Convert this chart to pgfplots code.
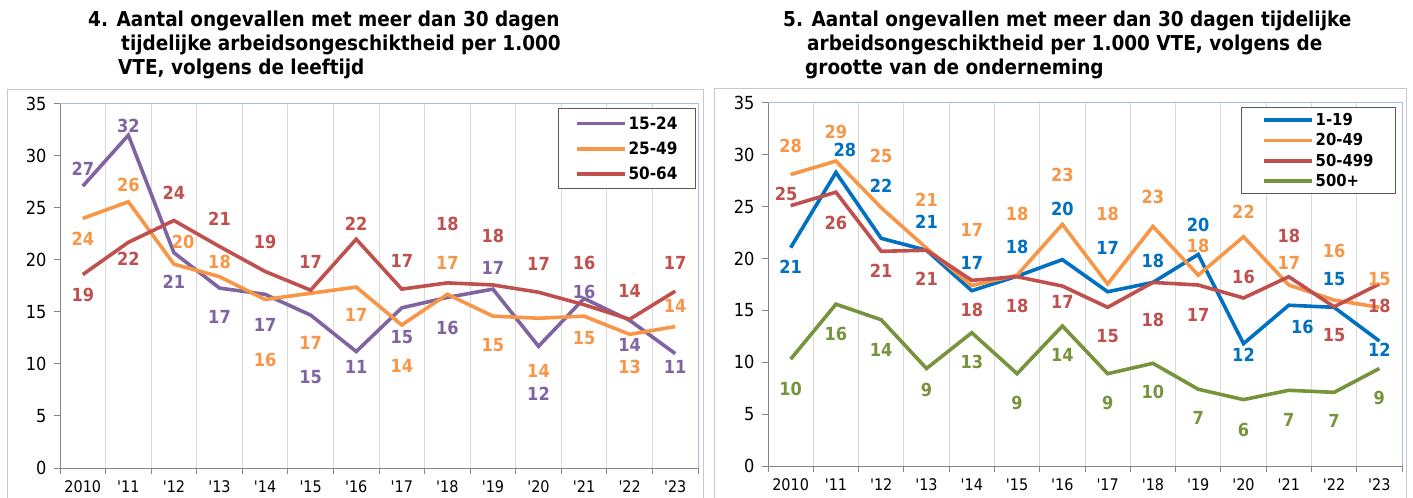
\documentclass[border=0pt]{standalone}
\usepackage{fontspec}
\setmainfont{DejaVu Sans Condensed}
\usepackage{pgfplots}
\usepackage{pgfplotstable}
\pgfplotsset{compat=1.18}
\definecolor{cpurple}{HTML}{8064A2}
\definecolor{corange}{HTML}{F79646}
\definecolor{cred}{HTML}{C0504D}
\definecolor{cblue}{HTML}{0070C0}
\definecolor{cgreen}{HTML}{77933C}
\definecolor{axgray}{HTML}{868686}
\definecolor{gridgray}{HTML}{D9D9D9}
\definecolor{topblue}{HTML}{A7BFDE}
\definecolor{framegray}{HTML}{C8C8C8}

% left chart values
\pgfplotstableread{
x p o r
0 27.1 24.0 18.6
1 32.0 25.6 21.7
2 20.7 19.6 23.8
3 17.3 18.4 21.3
4 16.7 16.2 18.9
5 14.7 16.8 17.1
6 11.2 17.4 22.0
7 15.4 13.75 17.2
8 16.4 16.7 17.8
9 17.2 14.6 17.6
10 11.7 14.4 16.9
11 16.3 14.6 15.7
12 14.2 12.85 14.3
13 11.0 13.6 17.0
}\leftdata
% right chart values
\pgfplotstableread{
x b o r g
0 21.05 28.1 25.1 10.3
1 28.3 29.4 26.4 15.6
2 21.95 24.9 20.7 14.1
3 20.8 21.0 20.8 9.4
4 16.9 17.4 17.9 12.85
5 18.3 18.4 18.25 8.9
6 19.9 23.3 17.35 13.5
7 16.8 17.55 15.3 8.9
8 17.7 23.1 17.7 9.9
9 20.4 18.4 17.45 7.4
10 11.8 22.1 16.2 6.4
11 15.5 17.45 18.25 7.3
12 15.3 16.0 15.35 7.1
13 12.05 15.3 17.55 9.4
}\rightdata

% label positions (x, y of label, text)
\pgfplotstableread{
x y t
0 28.8 27
1 32.9 32
2 17.9 21
3 14.5 17
4 13.8 17
5 8.7 15
6 9.7 11
7 12.6 15
8 13.5 16
9 19.2 17
10 7.1 12
11 16.9 16
12 11.8 14
13 9.7 11
}\Lp
\pgfplotstableread{
x y t
0 22.0 24
1 27.2 26
2.2 21.7 20
3 19.8 18
4 10.4 16
5 12.0 17
6 14.7 17
7 9.8 14
8 19.7 17
9 11.8 15
10 9.3 14
11 12.5 15
12 9.7 13
13 15.6 14
}\Lo
\pgfplotstableread{
x y t
0 16.6 19
1 20.1 22
2 26.5 24
3 24.0 21
4 21.7 19
5 19.8 17
6 23.5 22
7 19.9 17
8 23.5 18
9 22.3 18
10 19.6 17
11 19.7 16
12 17.0 14
13 19.7 17
}\Lr
\pgfplotstableread{
x y t
0 19.2 21
1.2 30.5 28
2 27.0 22
3 23.5 21
4 19.6 17
5 21.1 18
6 24.8 20
7 21.0 17
8 19.8 18
9 23.2 20
10 10.7 12
11.3 13.4 16
12 18.0 15
13 11.25 12
}\Rb
\pgfplotstableread{
x y t
0 30.9 28
1 32.2 29
2 29.9 25
3 25.65 21
4 22.75 17
5 24.3 18
6 28.1 23
7 24.3 18
8 25.9 23
9 21.25 18
10 24.5 22
11 19.6 17
12 20.7 16
13 18.0 15
}\Ro
\pgfplotstableread{
x y t
-0.1 26.2 25
1 23.4 26
2 18.8 21
3 18.0 21
4 15.0 18
5 15.4 18
6 15.85 17
7 12.5 15
8 14.1 18
9 14.6 17
10 18.25 16
11 22.2 18
12 12.6 15
13 15.45 18
}\Rr
\pgfplotstableread{
x y t
0 7.4 10
1 12.7 16
2 11.2 14
3 7.3 9
4 10.06 13
5 6.1 9
6 10.7 14
7 6.1 9
8 7.1 10
9 4.6 7
10 3.5 6
11 4.4 7
12 4.3 7
13 6.6 9
}\Rg

\pgfplotsset{
  panel/.style={
    scale only axis, anchor=south west,
    xmin=-0.5, xmax=13.5, ymin=0, ymax=35,
    axis lines=left,
    axis line style={-, draw=axgray, line width=1bp},
    xtick={0,...,13},
    xticklabels={2010,\textquotesingle11,\textquotesingle12,\textquotesingle13,\textquotesingle14,\textquotesingle15,\textquotesingle16,\textquotesingle17,\textquotesingle18,\textquotesingle19,\textquotesingle20,\textquotesingle21,\textquotesingle22,\textquotesingle23},
    major x tick style={draw=none},
    minor xtick={-0.5,0.5,...,13.5},
    minor tick length=6bp,
    minor x tick style={draw=axgray, line width=1bp},
    xminorgrids=true,
    minor x grid style={draw=gridgray, line width=1bp},
    ytick={0,5,...,35},
    tick align=outside,
    major tick length=6bp,
    major y tick style={draw=axgray, line width=1bp},
    x tick label style={font=\fontsize{16bp}{18bp}\selectfont, yshift=-3bp},
    y tick label style={font=\fontsize{18bp}{20bp}\selectfont, xshift=-4bp},
    /pgf/number format/assume math mode=true,
    legend cell align=left,
    legend image code/.code={\draw[##1, line width=3.8bp] (0bp,0bp) -- (48bp,0bp);},
    clip=false,
  },
  ser/.style={mark=none, line width=3.6bp, color=#1},
  lab/.style={draw=none, mark=none, forget plot,
    nodes near coords={\pgfplotspointmeta},
    point meta=explicit symbolic,
    every node near coord/.append style={anchor=center, inner sep=0pt, text=#1,
      font=\fontsize{18bp}{20bp}\selectfont\bfseries}},
}

\begin{document}
\begin{tikzpicture}
\useasboundingbox (0bp,0bp) rectangle (1413bp,498bp);
\draw[framegray, line width=1bp] (7bp,-3bp) -- (7bp,408bp) -- (703bp,408bp) -- (703bp,-3bp);
\draw[framegray, line width=1bp] (714bp,-3bp) -- (714bp,409bp) -- (1406bp,409bp) -- (1406bp,-3bp);

\begin{scope}[every node/.style={anchor=base west, inner sep=0pt, font=\fontsize{20.5bp}{23bp}\selectfont\bfseries}]
\node at (88bp,471bp) {4. Aantal ongevallen met meer dan 30 dagen};
\node at (121bp,447bp) {tijdelijke arbeidsongeschiktheid per 1.000};
\node at (118bp,423bp) {VTE, volgens de leeftijd};
\node at (783bp,471bp) {5. Aantal ongevallen met meer dan 30 dagen tijdelijke};
\node at (807bp,447bp) {arbeidsongeschiktheid per 1.000 VTE, volgens de};
\node at (805bp,423bp) {grootte van de onderneming};
\end{scope}

\begin{axis}[panel, at={(60bp,30bp)}, width=638bp, height=364bp,
  legend style={at={(rel axis cs:1,1)}, anchor=north east, xshift=-2bp, yshift=-4bp,
    draw=black!65, line width=1bp, font=\fontsize{17bp}{19bp}\selectfont\bfseries,
    inner xsep=16bp, inner ysep=6bp, row sep=7bp}]
\draw[topblue, line width=1bp] (rel axis cs:0,1) -- (rel axis cs:1,1) -- (rel axis cs:1,0);
\addplot[ser=cpurple] table[x=x,y=p] {\leftdata};
\addplot[ser=corange] table[x=x,y=o] {\leftdata};
\addplot[ser=cred] table[x=x,y=r] {\leftdata};
\legend{15-24,25-49,50-64}
\addplot[lab=cpurple] table[x=x,y=y,meta=t] {\Lp};
\addplot[lab=corange] table[x=x,y=y,meta=t] {\Lo};
\addplot[lab=cred] table[x=x,y=y,meta=t] {\Lr};
\end{axis}

\begin{axis}[panel, at={(768bp,32bp)}, width=634bp, height=363bp,
  legend style={at={(rel axis cs:1,1)}, anchor=north east, xshift=-6bp, yshift=-4bp,
    draw=black!65, line width=1bp, font=\fontsize{16.5bp}{18bp}\selectfont\bfseries,
    inner xsep=20bp, inner ysep=4bp, row sep=2.5bp}]
\draw[topblue, line width=1bp] (rel axis cs:0,1) -- (rel axis cs:1,1) -- (rel axis cs:1,0);
\addplot[ser=cblue] table[x=x,y=b] {\rightdata};
\addplot[ser=corange] table[x=x,y=o] {\rightdata};
\addplot[ser=cred] table[x=x,y=r] {\rightdata};
\addplot[ser=cgreen] table[x=x,y=g] {\rightdata};
\legend{1-19,20-49,50-499,500+}
\addplot[lab=cblue] table[x=x,y=y,meta=t] {\Rb};
\addplot[lab=corange] table[x=x,y=y,meta=t] {\Ro};
\addplot[lab=cred] table[x=x,y=y,meta=t] {\Rr};
\addplot[lab=cgreen] table[x=x,y=y,meta=t] {\Rg};
\end{axis}
\end{tikzpicture}
\end{document}
